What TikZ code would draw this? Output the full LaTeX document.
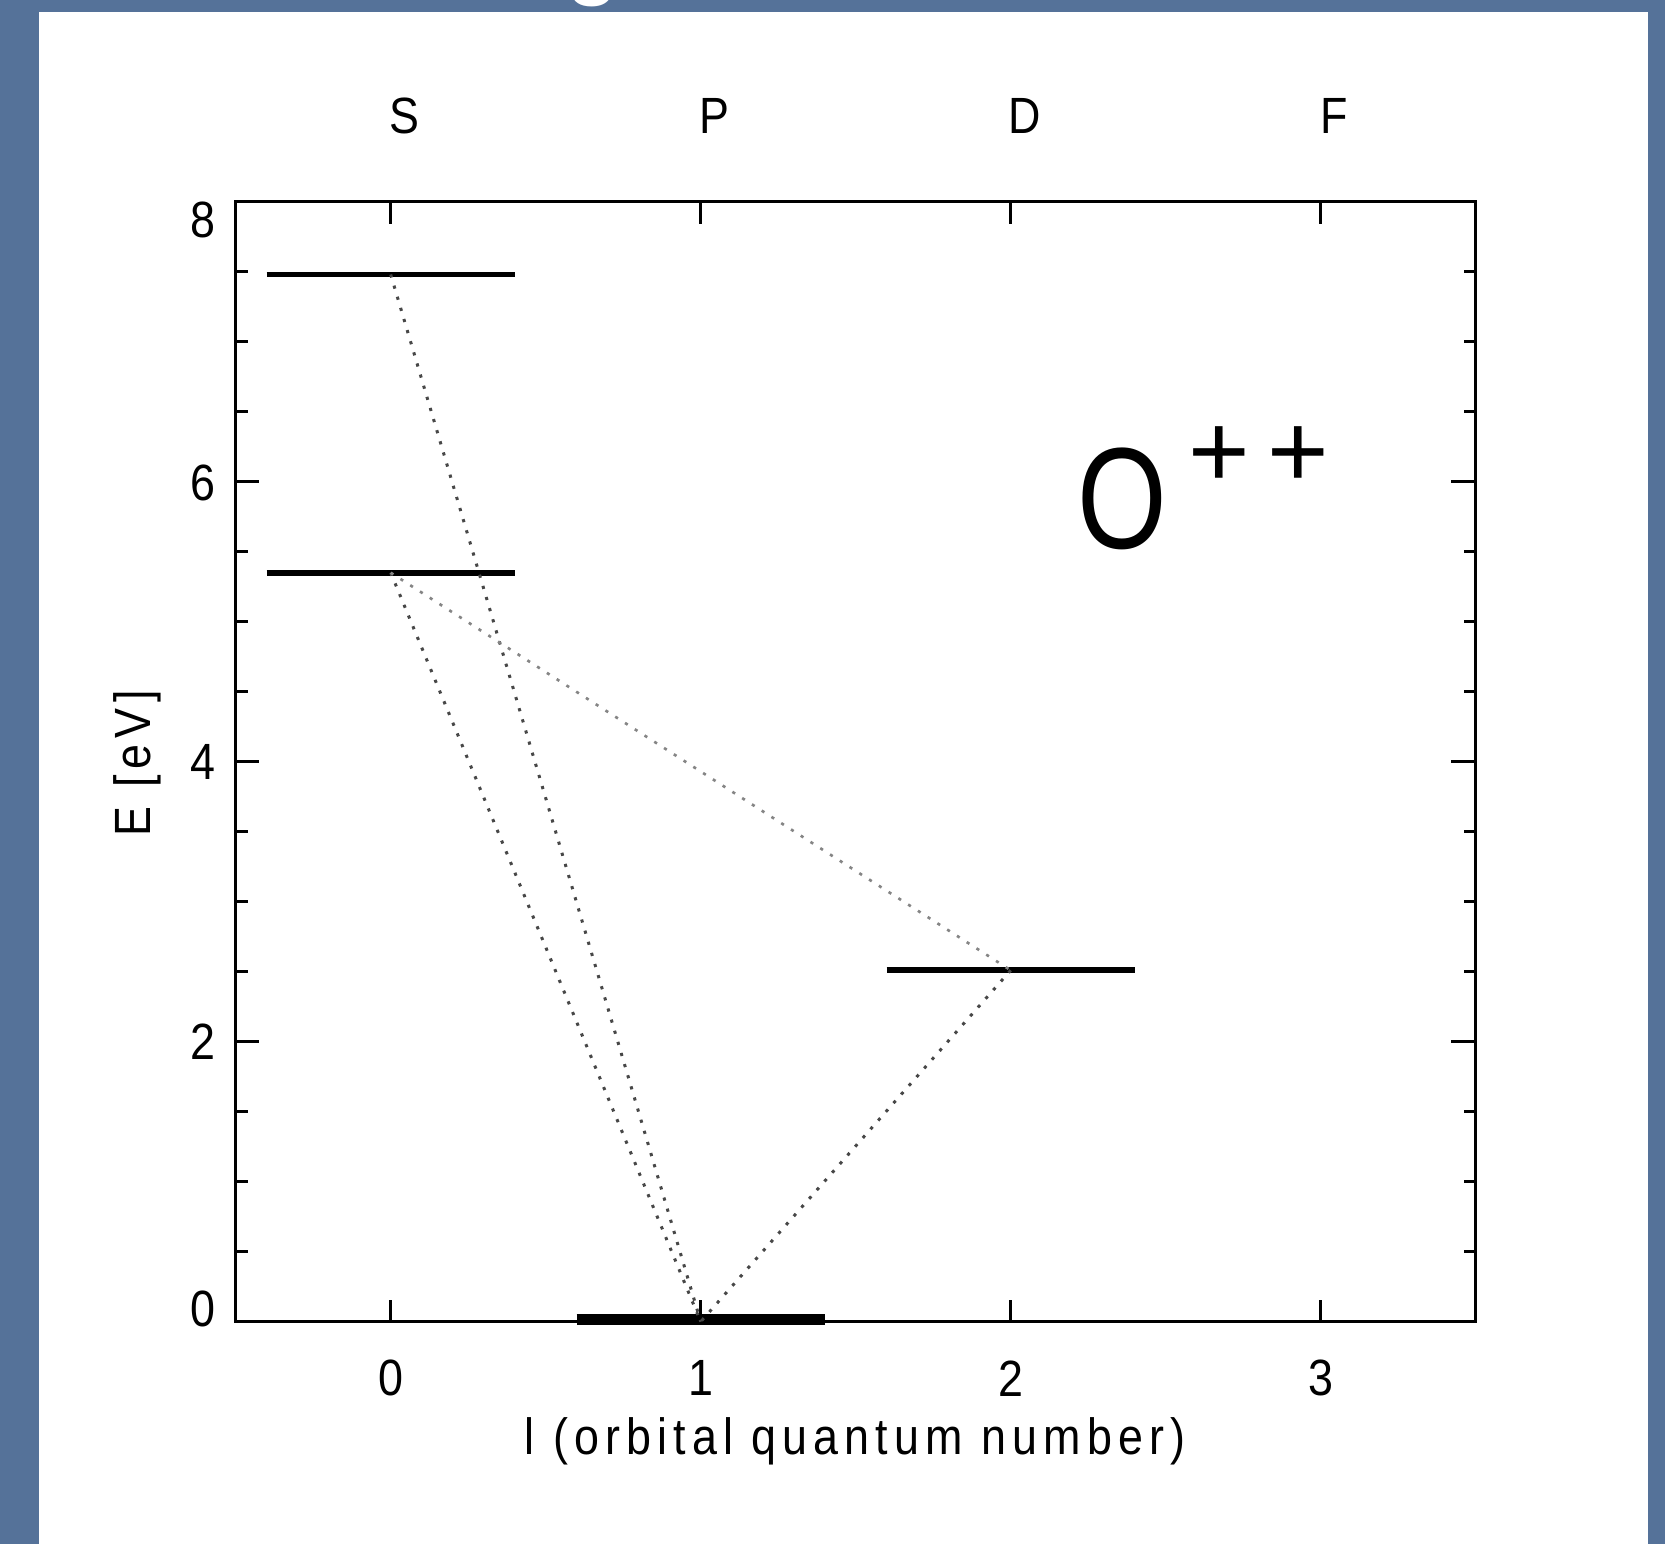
\documentclass[tikz,border=0pt]{standalone}
\usepackage{fontspec}
\setmainfont{Liberation Sans}
\newfontfamily\plotfont[FakeStretch=0.88,LetterSpace=12]{Liberation Sans}
\newfontfamily\bigfont[FakeStretch=0.8]{Liberation Sans}
\definecolor{slideblue}{RGB}{85,114,153}
\tikzset{
  level/.style={line width=1.7pt,line cap=butt},
  trans/.style={draw=black!72,line width=0.85pt,dash pattern=on 0.9pt off 2.4pt},
  faint/.style={trans,draw=black!48,line width=0.75pt},
  lab/.style={font=\plotfont\fontsize{14.5}{17}\selectfont,inner sep=0pt},
  tickline/.style={line width=0.85pt}
}
\begin{document}
\begin{tikzpicture}
\useasboundingbox (0,0) rectangle (16.65,15.44);
\fill[slideblue] (0,0) rectangle (16.65,15.44);
\fill[white] (0.39,0) rectangle (16.48,15.32);
% bit of the slide title
\node[white,font=\fontsize{28}{30}\selectfont,anchor=base,inner sep=0pt] (titleg) at (5.93,15.57) {g};
\begin{scope}[shift={(3.907,2.223)},x=3.1cm,y=1.4cm]
% frame and ticks
\draw[tickline] (-0.5,0) rectangle (3.5,8);
\foreach \x in {0,1,2,3}{
    \draw[tickline] (\x,8) -- ++(0,-0.22cm);
    \draw[tickline] (\x,0) -- ++(0,0.22cm);
}
\foreach \e in {0.5,1,...,7.5}{
    \draw[tickline] (-0.5,\e) -- ++(0.12cm,0);
    \draw[tickline] (3.5,\e) -- ++(-0.12cm,0);
}
\foreach \e in {0,2,4,6,8}{
    \draw[tickline] (-0.5,\e) -- ++(0.23cm,0);
    \draw[tickline] (3.5,\e) -- ++(-0.25cm,0);
}
% tick labels
\foreach \x in {0,1,2,3}{
    \node[lab] (xl\x) at (\x,-0.405) {\x};
}
\foreach \e/\pos in {8/7.87,6/5.99,4/4.0,2/2.0,0/0.09}{
    \node[lab] (yl\e) at (-0.605,\pos) {\e};
}
\foreach \x/\lab in {0/S,1/P,2/D,3/F}{
    \node[lab] (term\lab) at (\x+0.045,8.61) {\lab};
}
\node[lab,rotate=90] (ylab) at (-0.818,3.99) {E [eV]};
\node[lab] (xlab) at (1.498,-0.856) {l (orbital quantum number)};
% ion
\node[font=\bigfont\fontsize{41}{45}\selectfont,inner sep=0pt] (ion) at (2.36,5.876) {O};
\node[font=\fontsize{30}{32}\selectfont,inner sep=0pt] (charge) at (2.799,6.176) {+\hspace{5pt}+};
% levels
\foreach \n/\l/\e in {S5/0/7.48,S1/0/5.35,D1/2/2.51}{
    \coordinate (\n) at (\l,\e);
    \draw[level] (\l-0.4,\e) -- (\l+0.4,\e);
}
\coordinate (P0) at (1,0);
\draw[line width=3.2pt] (0.6,0.015) -- (1.4,0.015);
% transitions
\draw[trans] (S5) -- (P0);
\draw[trans] (S1) -- (P0);
\draw[faint] (S1) -- (D1);
\draw[trans] (D1) -- (P0);
\end{scope}
\end{tikzpicture}
\end{document}
